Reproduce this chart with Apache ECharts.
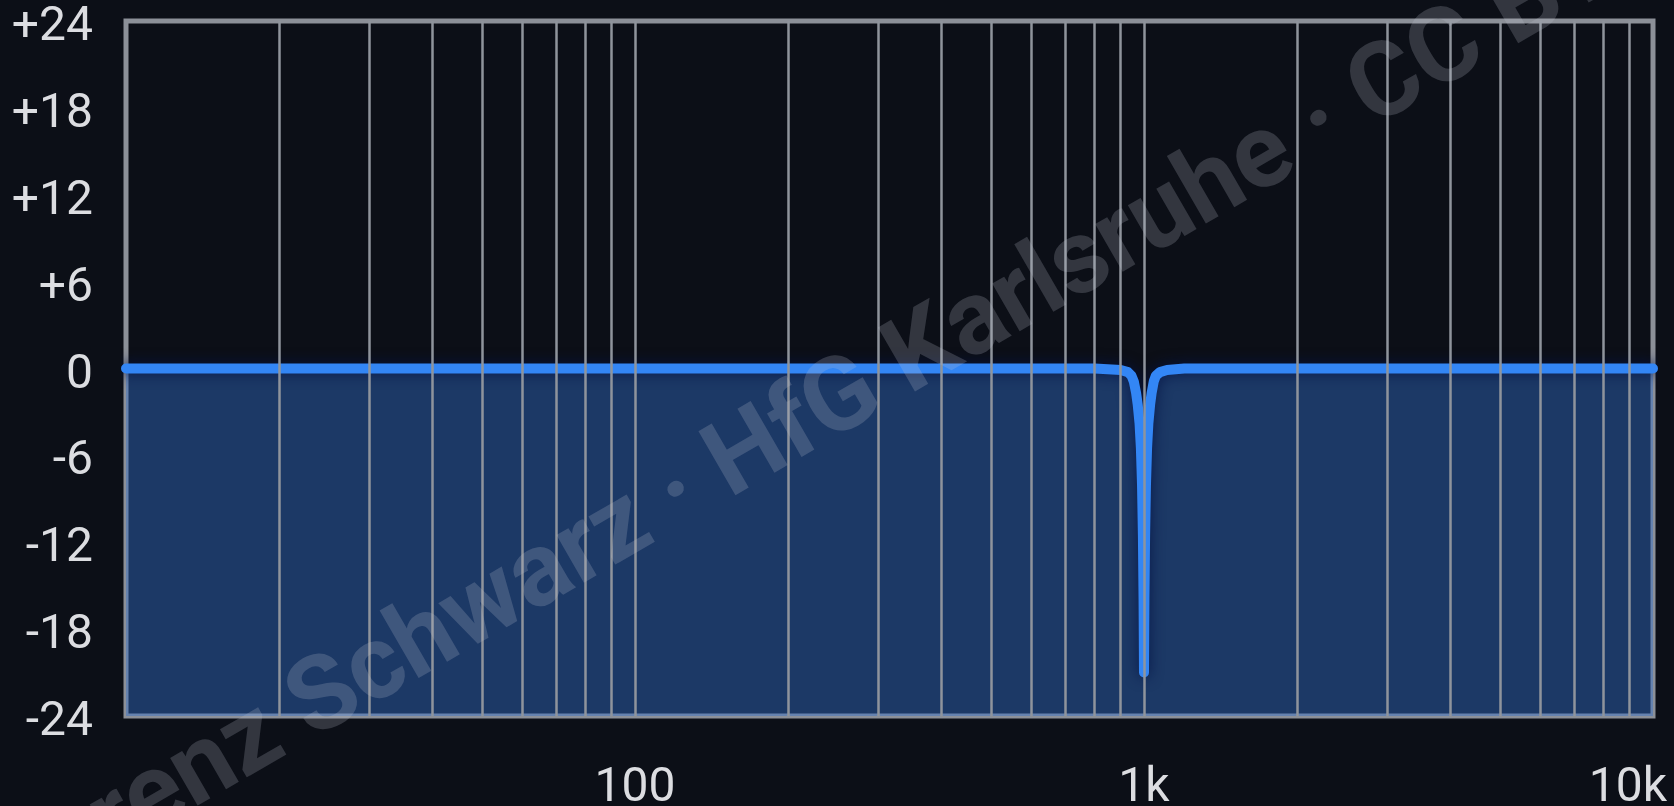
<!DOCTYPE html>
<html>
<head>
<meta charset="utf-8">
<script src="https://cdn.jsdelivr.net/npm/echarts@6/dist/echarts.min.js"></script>
<style>
  html, body { margin: 0; padding: 0; background: #0c0f17; }
  #chart { width: 1674px; height: 806px; }
</style>
</head>
<body>
<div id="chart"></div>
<script>
// Frequency response (Hz, dB) of a notch at 1 kHz
const freqs = [10, 20, 50, 100, 200, 500, 700, 800, 900, 930, 945, 955, 965, 972, 980, 986, 991, 995, 998, 1000,
               1002, 1005, 1009, 1014, 1020, 1028, 1035, 1045, 1055, 1075, 1110, 1200, 1500, 2000, 5000, 10000];
const gains = [0, 0, 0, 0, 0, 0, 0, 0, -0.1, -0.25, -0.5, -0.9, -1.7, -2.5, -3.8, -5.5, -8, -11.5, -16, -21,
               -16, -11.5, -8, -5.5, -3.8, -2.5, -1.7, -0.9, -0.5, -0.25, -0.1, 0, 0, 0, 0, 0];
// Vertical grid line frequencies
const gridFreqs = [20, 30, 40, 50, 60, 70, 80, 90, 100, 200, 300, 400, 500, 600, 700, 800, 900,
                   1000, 2000, 3000, 4000, 5000, 6000, 7000, 8000, 9000];
const xTickLabels = { 100: '100', 1000: '1k', 10000: '10k' };
const yTicks = [-24, -18, -12, -6, 0, 6, 12, 18, 24];
const watermark = 'Lorenz Schwarz · HfG Karlsruhe · CC BY';

const chart = echarts.init(document.getElementById('chart'), null, { renderer: 'canvas' });
const lineData = freqs.map((f, i) => [f, gains[i]]);

const option = {
  backgroundColor: '#0c0f17',
  animation: false,
  grid: {
    left: 126, right: 21, top: 21, bottom: 90,
    containLabel: false, outerBoundsMode: 'none',
    show: true, borderColor: '#8c9098', borderWidth: 5, backgroundColor: 'transparent'
  },
  xAxis: {
    type: 'log', logBase: 10, min: 10, max: 10000,
    axisLine: { show: false }, axisTick: { show: false },
    splitLine: { show: false },
    axisLabel: {
      color: '#dcdde1', fontFamily: 'Roboto', fontSize: 48, margin: 49,
      hideOverlap: false,
      formatter: v => {
        const r = Math.round(v);
        if (r === 10000) return '{t|' + xTickLabels[r] + '}{gap|}';
        return xTickLabels[r] || '';
      },
      rich: {
        t: { color: '#dcdde1', fontFamily: 'Roboto', fontSize: 48 },
        gap: { width: 50 }
      }
    }
  },
  yAxis: {
    type: 'value', min: yTicks[0], max: yTicks[yTicks.length - 1], interval: 6,
    axisLine: { show: false }, axisTick: { show: false }, splitLine: { show: false },
    axisLabel: {
      color: '#dcdde1', fontFamily: 'Roboto', fontSize: 48, margin: 33,
      verticalAlign: 'top', lineHeight: 14,
      formatter: v => (v > 0 ? '+' + v : String(v))
    }
  },
  series: [
    {
      type: 'line', z: 1, data: lineData, silent: true,
      lineStyle: { opacity: 0 }, showSymbol: false, symbol: 'none',
      markLine: {
        silent: true, symbol: ['none', 'none'], label: { show: false },
        lineStyle: { color: '#8f949c', width: 2.5, type: 'solid' },
        data: gridFreqs.map(f => ({ xAxis: f }))
      }
    },
    {
      type: 'line', z: 2, data: lineData, showSymbol: false, symbol: 'none', smooth: false,
      lineStyle: { color: '#3386f5', width: 10, cap: 'round', join: 'round',
                   shadowColor: 'rgba(5,20,70,0.9)', shadowBlur: 14 },
      areaStyle: { origin: 'start', color: 'rgba(50,112,205,0.62)' }
    }
  ],
  graphic: [{
    type: 'text', z: 100, silent: true,
    x: 805, y: 425, rotation: 30 * Math.PI / 180,
    style: {
      text: watermark, fontFamily: 'Roboto', fontWeight: 'bold', fontSize: 104,
      fill: 'rgba(190,195,210,0.22)', align: 'center', verticalAlign: 'middle'
    }
  }]
};
chart.setOption(option);
</script>
</body>
</html>
